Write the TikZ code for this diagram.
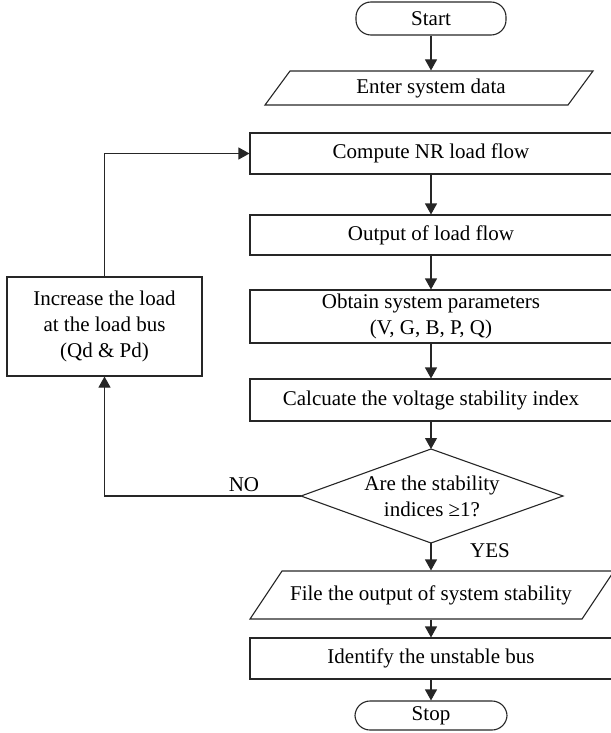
\documentclass[tikz,border=0pt]{standalone}
\usepackage{fontspec}
\setmainfont{Liberation Serif}
\usetikzlibrary{arrows.meta}
\begin{document}
\begin{tikzpicture}[x=1pt,y=-1pt, line width=1.1pt,
  every node/.style={font=\fontsize{21}{26}\selectfont, text=black, inner sep=0pt},
  box/.style={draw=black!85, rectangle, align=center},
  term/.style={draw=black!85, rectangle, rounded corners=15pt},
  io/.style={rectangle, align=center},
  arr/.style={draw=black!85, -{Triangle[length=11pt,width=12pt]}},
  ln/.style={draw=black!85, line join=miter}
  ]
\useasboundingbox (0,0) rectangle (610,733);

% terminals
\node[term, minimum width=150pt, minimum height=33pt] (start) at (431,18.5) {Start};
\node[term, minimum width=152pt, minimum height=29pt] (stop) at (431,715.5) {Stop};

% input/output (parallelograms)
\node[io, minimum width=280pt, minimum height=34pt] (enter) at (431,88) {Enter system data};
\draw[ln] (290,71) -- (593,71) -- (568,105) -- (265,105) -- cycle;

\node[io, minimum width=300pt, minimum height=48pt] (file) at (431,595) {File the output of system stability};
\draw[ln] (282,571) -- (614,571) -- (582,619) -- (250,619) -- cycle;

% process boxes
\node[box, minimum width=362pt, minimum height=41pt] (compute) at (431,153.5) {Compute NR load flow};
\node[box, minimum width=362pt, minimum height=40pt] (output) at (431,235) {Output of load flow};
\node[box, minimum width=362pt, minimum height=53pt] (obtain) at (431,316.5) {Obtain system parameters\\(V, G, B, P, Q)};
\node[box, minimum width=362pt, minimum height=42pt] (calc) at (431,400) {Calcuate the voltage stability index};
\node[box, minimum width=362pt, minimum height=41pt] (identify) at (431,658.5) {Identify the unstable bus};
\node[box, minimum width=195pt, minimum height=99pt] (increase) at (104.5,326.5) {Increase the load\\at the load bus\\(Qd \& Pd)};

% decision diamond
\coordinate (dtop) at (431,449);
\coordinate (dright) at (563,496);
\coordinate (dbot) at (431,543);
\coordinate (dleft) at (301,496);
\draw[ln] (dtop) -- (dright) -- (dbot) -- (dleft) -- cycle;
\node[align=center] (dec) at (432,496) {Are the stability\\indices ≥1?};

% labels
\node (no) at (244,485) {NO};
\node (yes) at (490,551) {YES};

% connectors
\draw[arr] (start.south) -- (enter.north);
\draw[arr] (compute.south) -- (output.north);
\draw[arr] (output.south) -- (obtain.north);
\draw[arr] (obtain.south) -- (calc.north);
\draw[arr] (calc.south) -- (dtop);
\draw[arr] (dbot) -- (file.north);
\draw[arr] (file.south) -- (identify.north);
\draw[arr] (identify.south) -- (stop.north);
\draw[arr] (dleft) -| (increase.south);
\draw[arr] (increase.north) |- (compute.west);
\end{tikzpicture}
\end{document}
